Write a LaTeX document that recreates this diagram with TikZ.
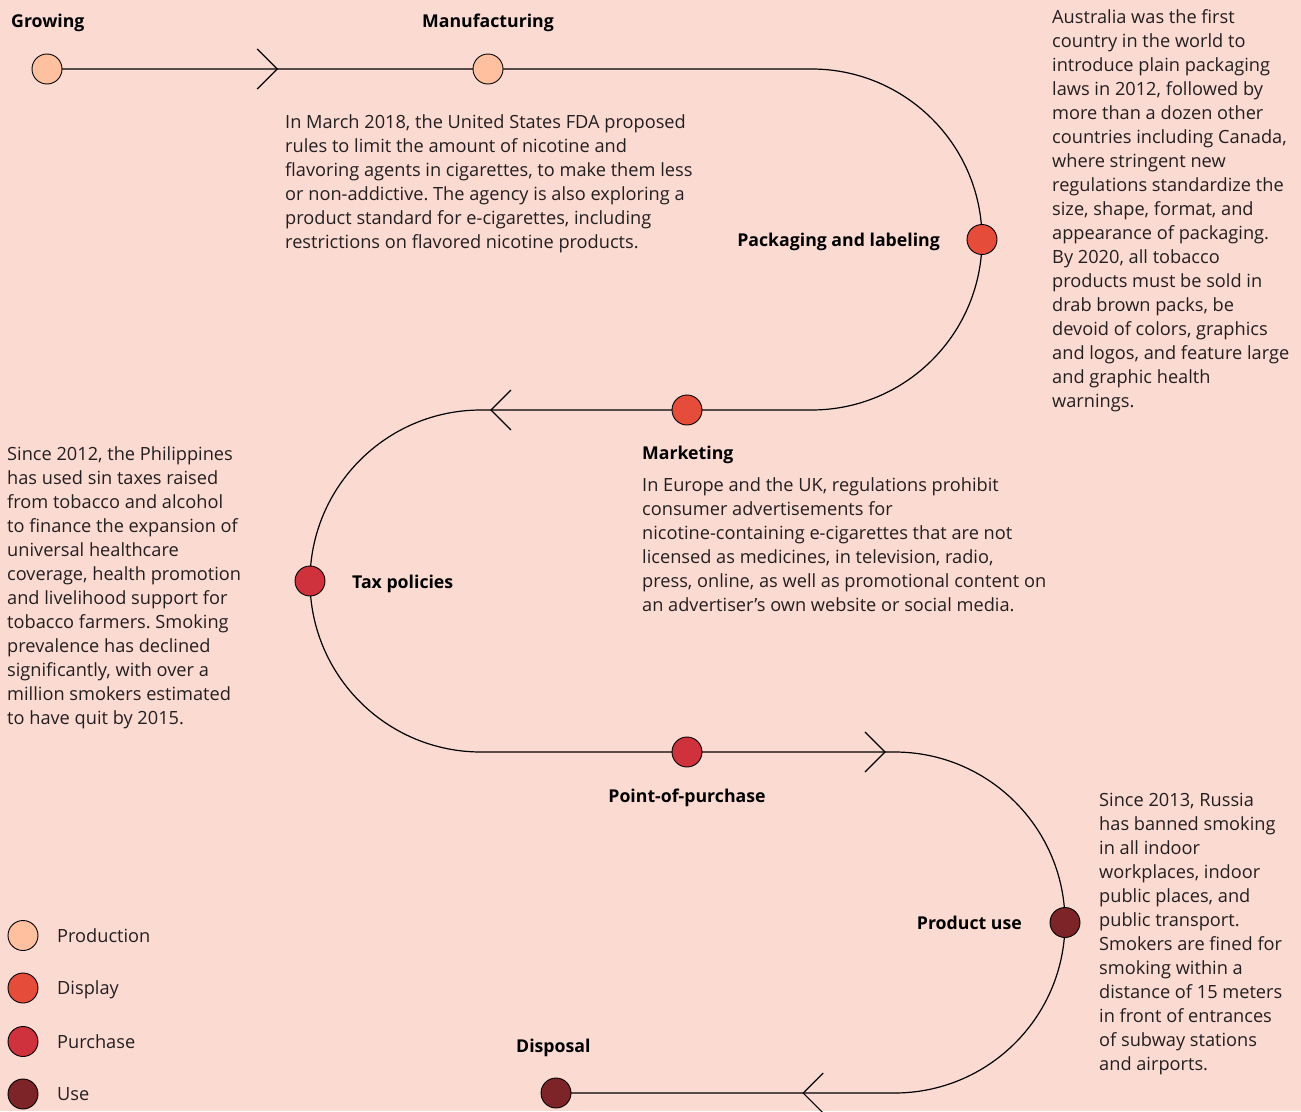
\documentclass[tikz,border=0pt]{standalone}
\usepackage{fontspec}
\setmainfont{Open Sans}
\usetikzlibrary{arrows.meta,backgrounds,decorations.markings}
\frenchspacing

\definecolor{bgpink}{RGB}{251,218,210}
\definecolor{prodcol}{RGB}{255,192,160}
\definecolor{dispcol}{RGB}{229,76,58}
\definecolor{purchcol}{RGB}{207,50,60}
\definecolor{usecol}{RGB}{125,36,40}
\definecolor{textgray}{RGB}{35,31,32}

\tikzset{
  barbtip/.tip={Straight Barb[length=20pt,width=40pt]},
  stage/.style={circle,draw=black,line width=0.9pt,minimum size=30pt,inner sep=0pt},
  flow/.style={line width=1.2pt},
  stagelabel/.style={font=\bfseries\fontsize{17.7}{20}\selectfont,inner sep=0pt},
  notetext/.style={font=\fontsize{18.2}{24}\selectfont,align=left,inner sep=0pt,anchor=north west,text=textgray},
}

\begin{document}
\begin{tikzpicture}[x=1pt,y=-1pt]
\useasboundingbox (0,0) rectangle (1301,1111);

% stages
\node[stage,fill=prodcol] (grow) at (47,69) {};
\node[stage,fill=prodcol] (manu) at (488,69) {};
\node[stage,fill=dispcol] (pack) at (982,239.5) {};
\node[stage,fill=dispcol] (mark) at (687,410) {};
\node[stage,fill=purchcol] (tax) at (310,581) {};
\node[stage,fill=purchcol] (pop) at (687,752) {};
\node[stage,fill=usecol] (use) at (1065,922.5) {};
\node[stage,fill=usecol] (disp) at (556,1093) {};

% turning points
\node[coordinate] (c1) at (811.5,69) {};
\node[coordinate] (c2) at (481,410) {};
\node[coordinate] (c3) at (894.5,752) {};

% the winding line, arrows measured along it
\begin{scope}[on background layer]
\fill[bgpink] (0,0) rectangle (1301,1111);
\draw[flow,postaction={decorate},decoration={markings,
    mark=at position 231pt with {\arrow{barbtip}},
    mark=at position 1621.6pt with {\arrow{barbtip}},
    mark=at position 2572.8pt with {\arrow{barbtip}},
    mark=at position 3209.4pt with {\arrow{barbtip}}}]
  (grow.center) -- (manu.center) -- (c1) arc (-90:90:170.5)
  -- (mark.center) -- (c2) arc (-90:-270:171)
  -- (pop.center) -- (c3) arc (-90:90:170.5) -- (disp.center);
\end{scope}

% labels
\node[stagelabel,anchor=base west] (lgrow) at (11,27) {Growing};
\node[stagelabel,anchor=base west] (lmanu) at (422,27) {Manufacturing};
\node[stagelabel,anchor=base east] (lpack) at (940,246) {Packaging and labeling};
\node[stagelabel,anchor=base west] (lmark) at (642,459) {Marketing};
\node[stagelabel,anchor=base west] (ltax) at (352,588) {Tax policies};
\node[stagelabel,anchor=base] (lpop) at (687,802) {Point-of-purchase};
\node[stagelabel,anchor=base east] (luse) at (1022,929) {Product use};
\node[stagelabel,anchor=base west] (ldisp) at (516,1052) {Disposal};

% notes
\node[notetext] (nfda) at (285,114.5) {In March 2018, the United States FDA proposed\\
rules to limit the amount of nicotine and\\
flavoring agents in cigarettes, to make them less\\
or non-addictive. The agency is also exploring a\\
product standard for e-cigarettes, including\\
restrictions on flavored nicotine products.};
\node[notetext] (naus) at (1052,9.5) {Australia was the first\\
country in the world to\\
introduce plain packaging\\
laws in 2012, followed by\\
more than a dozen other\\
countries including Canada,\\
where stringent new\\
regulations standardize the\\
size, shape, format, and\\
appearance of packaging.\\
By 2020, all tobacco\\
products must be sold in\\
drab brown packs, be\\
devoid of colors, graphics\\
and logos, and feature large\\
and graphic health\\
warnings.};
\node[notetext] (nmark) at (642,477.5) {In Europe and the UK, regulations prohibit\\
consumer advertisements for\\
nicotine-containing e-cigarettes that are not\\
licensed as medicines, in television, radio,\\
press, online, as well as promotional content on\\
an advertiser’s own website or social media.};
\node[notetext] (nphil) at (7,446.5) {Since 2012, the Philippines\\
has used sin taxes raised\\
from tobacco and alcohol\\
to finance the expansion of\\
universal healthcare\\
coverage, health promotion\\
and livelihood support for\\
tobacco farmers. Smoking\\
prevalence has declined\\
significantly, with over a\\
million smokers estimated\\
to have quit by 2015.};
\node[notetext] (nrus) at (1099,792.5) {Since 2013, Russia\\
has banned smoking\\
in all indoor\\
workplaces, indoor\\
public places, and\\
public transport.\\
Smokers are fined for\\
smoking within a\\
distance of 15 meters\\
in front of entrances\\
of subway stations\\
and airports.};

% legend
\node[stage,fill=prodcol] (leg1) at (23,935.5) {};
\node[stage,fill=dispcol] (leg2) at (23,988) {};
\node[stage,fill=purchcol] (leg3) at (23,1041.5) {};
\node[stage,fill=usecol] (leg4) at (23,1094) {};
\node[notetext,anchor=base west] at (57,942) {Production};
\node[notetext,anchor=base west] at (57,994.5) {Display};
\node[notetext,anchor=base west] at (57,1048) {Purchase};
\node[notetext,anchor=base west] at (57,1100.5) {Use};
\end{tikzpicture}
\end{document}
